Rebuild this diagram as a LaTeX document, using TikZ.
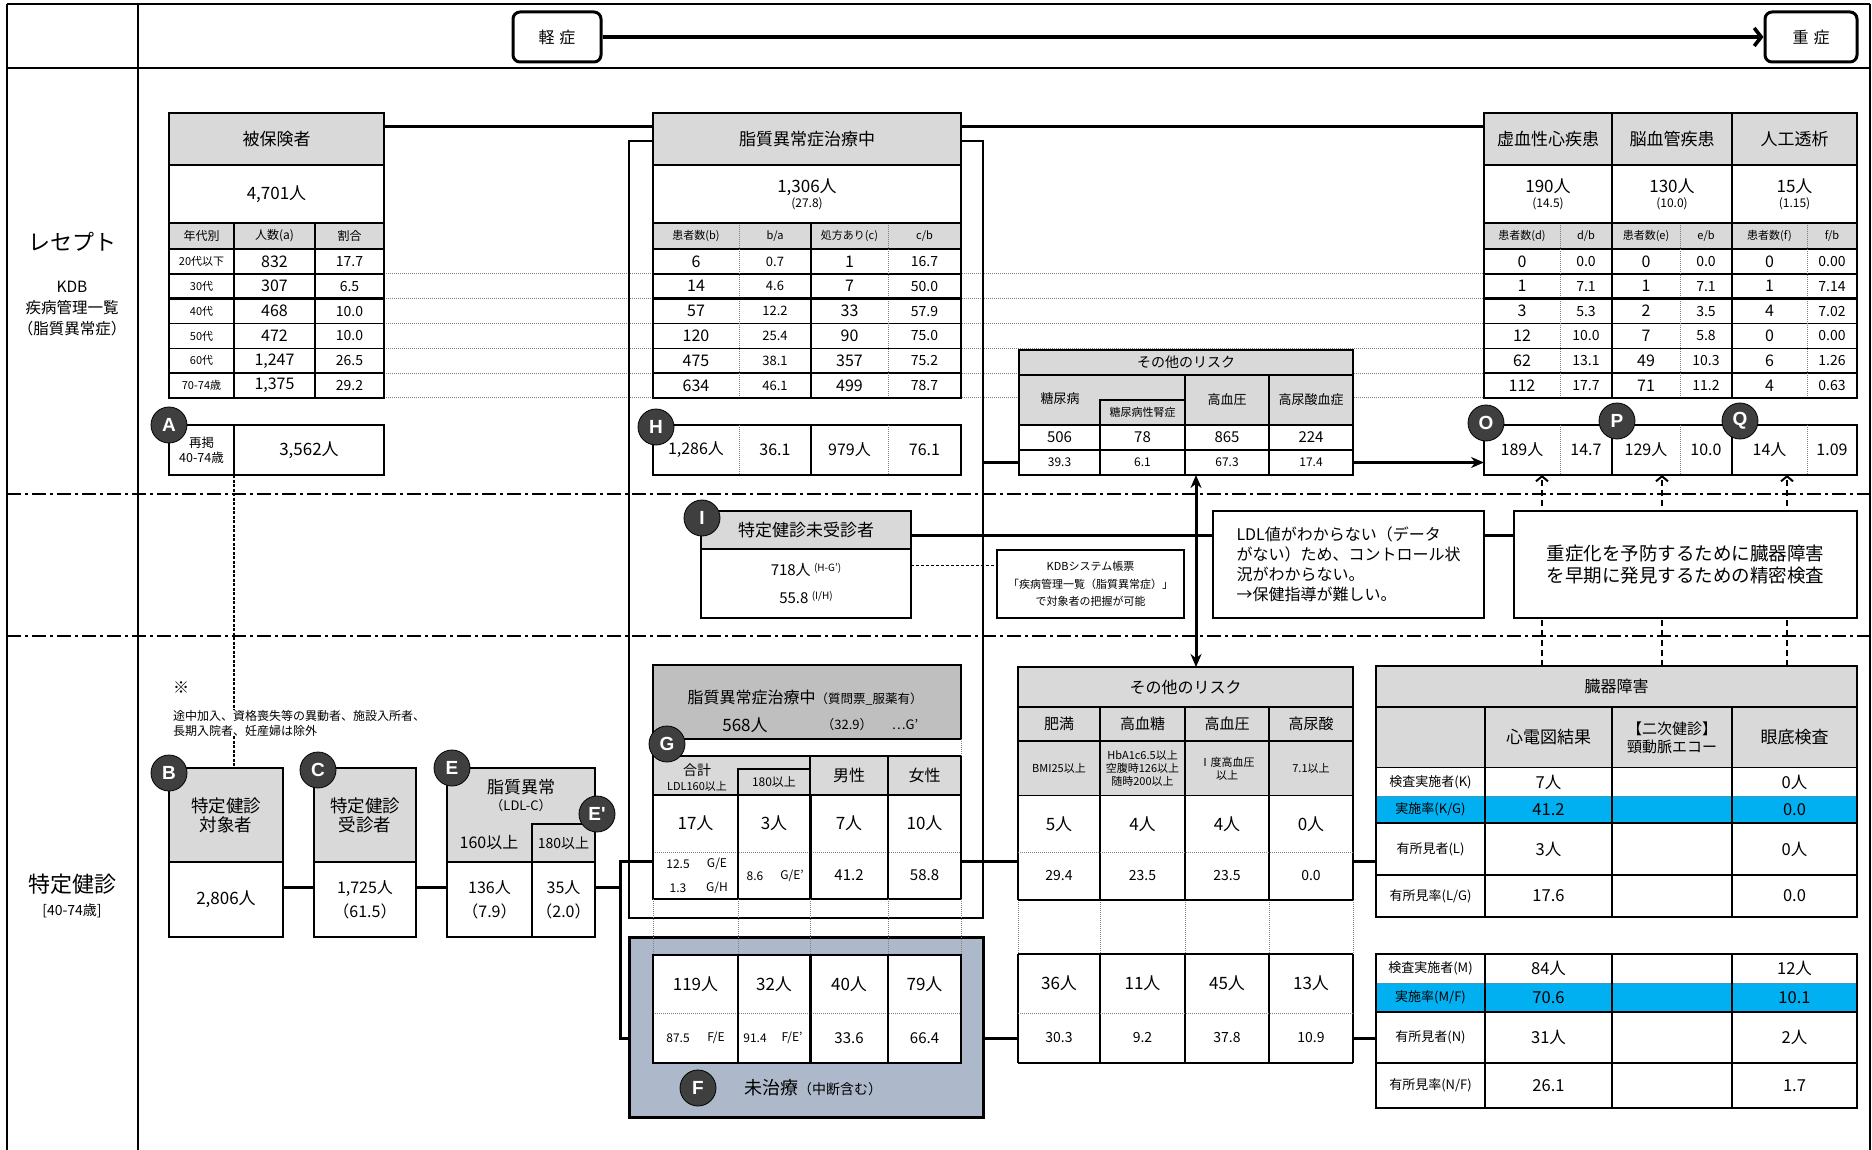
\documentclass[tikz,border=0pt]{standalone}
\usepackage{fontspec}
\setmainfont{Noto Sans CJK JP}
\newfontfamily\tagfont{Liberation Sans}
\usetikzlibrary{arrows.meta}
\pgfdeclarelayer{bg}
\pgfsetlayers{bg,main}
\definecolor{hdgray}{HTML}{D9D9D9}
\definecolor{ggray}{HTML}{BFBFBF}
\definecolor{fblue}{HTML}{ADB9CA}
\definecolor{rcyan}{HTML}{00B0F0}
\definecolor{tagc}{HTML}{3F3F3F}
\newcommand\fsz[2]{\fontsize{#1}{#2}\selectfont}
\newcommand\cellat[7][]{\node[cbox,#1,minimum width={(#5-#3)*1pt},minimum height={(#6-#4)*1pt}] (#2) at ({(#3+#5)/2},{(#4+#6)/2}) {#7};}
\tikzset{
  cbox/.style={draw,line width=1.5pt,fill=white,inner sep=0pt,outer sep=0pt,align=center},
  hcell/.style={cbox,fill=hdgray},
  fc/.style={cbox,draw=none},
  crow/.style={fc,fill=rcyan},
  thk/.style={line width=2.8pt},
  gl/.style={line width=1.5pt},
  dotl/.style={line width=1pt,draw=black!50,dash pattern=on 1pt off 1pt},
  conn/.style={line width=3pt},
  txt/.style={inner sep=0pt,outer sep=0pt,align=center},
  lettag/.style={circle,draw=black,line width=0.8pt,fill=tagc,text=white,minimum size=36pt,inner sep=0pt,font=\tagfont\bfseries\fsz{19}{19}},
  sev/.style={draw,line width=3pt,rounded corners=7pt,minimum height=50pt,inner sep=0pt,font=\fsz{16}{16}},
  dashdot/.style={line width=1.5pt,dash pattern=on 14pt off 4pt on 3pt off 4pt},
  upline/.style={line width=2pt,dash pattern=on 6pt off 4pt,-{Straight Barb[length=5pt,width=12pt]}},
  arr/.style={-{Stealth[length=13pt,width=11pt]}}
}
\begin{document}
\begin{tikzpicture}[x=1pt,y=-1pt]
\useasboundingbox (0,0) rectangle (1872,1150);

\draw[line width=2pt] (7,4) -- (1870,4) (7,68) -- (1870,68) (7,4) -- (7,1150) (138,4) -- (138,1150) (1870,4) -- (1870,1150);
\draw[dashdot] (7,494) -- (1870,494) (7,636) -- (1870,636);

\node[sev,minimum width=88pt] (mild) at (557,37) {軽\hspace{5pt}症};
\node[sev,minimum width=92pt] (severe) at (1811,37) {重\hspace{5pt}症};
\draw[line width=3.6pt,-{Straight Barb[length=7pt,width=18pt]}] (mild) -- (severe);

\node[txt,font=\fsz{22}{22}] (rcpt) at (72,242) {レセプト};
\node[txt,font=\fsz{15.5}{21}] (kdbl) at (72,309) {KDB\\疾病管理一覧\\（脂質異常症）};
\node[txt,font=\fsz{22}{22}] (kenl) at (72,884) {特定健診};
\node[txt,font=\fsz{14}{14}] (kena) at (72,911) {[40-74歳]};

\cellat[hcell,thk,font=\fsz{17}{17}]{ins}{169}{113}{384}{165}{被保険者}
\cellat[cbox,thk,font=\fsz{17}{17}]{ins-n}{169}{165}{384}{223}{4,701人}
\cellat[hcell,font=\fsz{12}{12}]{ins-h1}{169}{223}{234}{249}{年代別}
\cellat[hcell,font=\fsz{12}{12}]{ins-h2}{234}{223}{315}{249}{人数(a)}
\cellat[hcell,font=\fsz{12}{12}]{ins-h3}{315}{223}{384}{249}{割合}
\foreach \ag/\n/\p [count=\i from 0] in {20代以下/832/17.7,30代/307/6.5,40代/468/10.0,50代/472/10.0,60代/1{,}247/26.5,70-74歳/1{,}375/29.2}{
  \pgfmathsetmacro\ya{249+24.83*\i}
  \pgfmathsetmacro\yb{\ya+24.83}
  \cellat[cbox,font=\fsz{11}{11}]{ins-\i-1}{169}{\ya}{234}{\yb}{\ag}
  \cellat[cbox,font=\fsz{16}{16}]{ins-\i-2}{234}{\ya}{315}{\yb}{\n}
  \cellat[cbox,font=\fsz{14}{14}]{ins-\i-3}{315}{\ya}{384}{\yb}{\p}
}
\draw[thk] (ins-h1.north west) rectangle (ins-5-3.south east);
\draw[thk] (ins-2-1.north west) rectangle (ins-5-3.south east);
\cellat[cbox,thk,font=\fsz{12.5}{15}]{a-l}{169}{425}{234}{475}{再掲\\40-74歳}
\cellat[cbox,thk,font=\fsz{17}{17}]{a-n}{234}{425}{384}{475}{3,562人}

\cellat[cbox,thk,fill=none]{trtframe}{629}{141}{983}{918}{}
\cellat[hcell,thk,font=\fsz{17}{17}]{trt}{653}{113}{961}{165}{脂質異常症治療中}
\cellat[cbox,thk,font=\fsz{17}{17}]{trt-n}{653}{165}{961}{223}{1,306人\\[-2pt]{\fsz{12}{12}(27.8)}}
\cellat[hcell,draw=none,font=\fsz{11}{11}]{trt-c1}{653}{223}{739}{249}{患者数(b)}
\cellat[hcell,draw=none,font=\fsz{11}{11}]{trt-c2}{739}{223}{811}{249}{b/a}
\cellat[hcell,draw=none,font=\fsz{11}{11}]{trt-c3}{811}{223}{888}{249}{処方あり(c)}
\cellat[hcell,draw=none,font=\fsz{11}{11}]{trt-c4}{888}{223}{961}{249}{c/b}
\foreach \b/\ba/\c/\cb [count=\i from 0] in {6/0.7/1/16.7,14/4.6/7/50.0,57/12.2/33/57.9,120/25.4/90/75.0,475/38.1/357/75.2,634/46.1/499/78.7}{
  \pgfmathsetmacro\ya{249+24.83*\i}
  \pgfmathsetmacro\yb{\ya+24.83}
  \cellat[fc,font=\fsz{16}{16}]{trt-\i-1}{653}{\ya}{739}{\yb}{\b}
  \cellat[fc,font=\fsz{13}{13}]{trt-\i-2}{739}{\ya}{811}{\yb}{\ba}
  \cellat[fc,font=\fsz{16}{16}]{trt-\i-3}{811}{\ya}{888}{\yb}{\c}
  \cellat[fc,font=\fsz{14}{14}]{trt-\i-4}{888}{\ya}{961}{\yb}{\cb}
}
\foreach \i in {0,...,4} \draw[gl] (trt-\i-1.south west) -- (trt-\i-4.south east);
\draw[gl] (trt-c1.south west) -- (trt-c4.south east);
\draw[gl] (trt-c3.north west) -- (trt-5-3.south west);
\draw[dotl] (trt-c2.north west) -- (trt-5-2.south west) (trt-c4.north west) -- (trt-5-4.south west);
\draw[thk] (trt-c1.north west) rectangle (trt-5-4.south east);
\draw[thk] (trt-2-1.north west) rectangle (trt-5-4.south east);
\cellat[fc,font=\fsz{16}{16}]{trt-H1}{653}{425}{739}{475}{1,286人}
\cellat[fc,font=\fsz{16}{16}]{trt-H2}{739}{425}{811}{475}{36.1}
\cellat[fc,font=\fsz{16}{16}]{trt-H3}{811}{425}{888}{475}{979人}
\cellat[fc,font=\fsz{16}{16}]{trt-H4}{888}{425}{961}{475}{76.1}
\draw[thk] (trt-H1.north west) rectangle (trt-H4.south east);
\draw[gl] (trt-H3.north west) -- (trt-H3.south west);
\draw[dotl] (trt-H2.north west) -- (trt-H2.south west) (trt-H4.north west) -- (trt-H4.south west);

\foreach \xa/\xb/\t/\n/\r [count=\g] in {1484/1612/虚血性心疾患/190人/14.5,1612/1732/脳血管疾患/130人/10.0,1732/1857/人工透析/15人/1.15}{
  \cellat[hcell,thk,font=\fsz{17}{17}]{dis\g}{\xa}{113}{\xb}{165}{\t}
  \cellat[cbox,thk,font=\fsz{17}{17}]{dis\g-n}{\xa}{165}{\xb}{223}{\n\\[-2pt]{\fsz{12}{12}(\r)}}
}
\cellat[hcell,draw=none,font=\fsz{11}{11}]{dis-c1}{1484}{223}{1560}{249}{患者数(d)}
\cellat[hcell,draw=none,font=\fsz{11}{11}]{dis-c2}{1560}{223}{1612}{249}{d/b}
\cellat[hcell,draw=none,font=\fsz{11}{11}]{dis-c3}{1612}{223}{1680}{249}{患者数(e)}
\cellat[hcell,draw=none,font=\fsz{11}{11}]{dis-c4}{1680}{223}{1732}{249}{e/b}
\cellat[hcell,draw=none,font=\fsz{11}{11}]{dis-c5}{1732}{223}{1807}{249}{患者数(f)}
\cellat[hcell,draw=none,font=\fsz{11}{11}]{dis-c6}{1807}{223}{1857}{249}{f/b}
\foreach \va/\vb/\vc/\vd/\ve/\vf [count=\i from 0] in {0/0.0/0/0.0/0/0.00,1/7.1/1/7.1/1/7.14,3/5.3/2/3.5/4/7.02,12/10.0/7/5.8/0/0.00,62/13.1/49/10.3/6/1.26,112/17.7/71/11.2/4/0.63}{
  \pgfmathsetmacro\ya{249+24.83*\i}
  \pgfmathsetmacro\yb{\ya+24.83}
  \cellat[fc,font=\fsz{16}{16}]{dis-\i-1}{1484}{\ya}{1560}{\yb}{\va}
  \cellat[fc,font=\fsz{14}{14}]{dis-\i-2}{1560}{\ya}{1612}{\yb}{\vb}
  \cellat[fc,font=\fsz{16}{16}]{dis-\i-3}{1612}{\ya}{1680}{\yb}{\vc}
  \cellat[fc,font=\fsz{14}{14}]{dis-\i-4}{1680}{\ya}{1732}{\yb}{\vd}
  \cellat[fc,font=\fsz{16}{16}]{dis-\i-5}{1732}{\ya}{1807}{\yb}{\ve}
  \cellat[fc,font=\fsz{14}{14}]{dis-\i-6}{1807}{\ya}{1857}{\yb}{\vf}
}
\foreach \i in {0,...,4} \draw[gl] (dis-\i-1.south west) -- (dis-\i-6.south east);
\draw[gl] (dis-c1.south west) -- (dis-c6.south east);
\draw[gl] (dis-c3.north west) -- (dis-5-3.south west) (dis-c5.north west) -- (dis-5-5.south west);
\draw[dotl] (dis-c2.north west) -- (dis-5-2.south west) (dis-c4.north west) -- (dis-5-4.south west) (dis-c6.north west) -- (dis-5-6.south west);
\draw[thk] (dis-c1.north west) rectangle (dis-5-6.south east);
\draw[thk] (dis-2-1.north west) rectangle (dis-5-6.south east);
\foreach \xa/\xb/\v [count=\j] in {1484/1560/189人,1560/1612/14.7,1612/1680/129人,1680/1732/10.0,1732/1807/14人,1807/1857/1.09}{
  \cellat[fc,font=\fsz{16}{16}]{opq\j}{\xa}{425}{\xb}{475}{\v}
}
\draw[thk] (opq1.north west) rectangle (opq6.south east);
\draw[gl] (opq3.north west) -- (opq3.south west) (opq5.north west) -- (opq5.south west);
\draw[dotl] (opq2.north west) -- (opq2.south west) (opq4.north west) -- (opq4.south west) (opq6.north west) -- (opq6.south west);

\cellat[hcell,font=\fsz{14}{14}]{rsk}{1019}{350}{1353}{375}{その他のリスク}
\cellat[hcell]{rsk-h1}{1019}{375}{1185}{425}{}
\node[txt,font=\fsz{13}{13}] (rsk-t1) at (1060,399) {糖尿病};
\cellat[hcell,font=\fsz{11}{11}]{rsk-h2}{1100}{400}{1185}{425}{糖尿病性腎症}
\cellat[hcell,font=\fsz{13}{13}]{rsk-h3}{1185}{375}{1269}{425}{高血圧}
\cellat[hcell,font=\fsz{13}{13}]{rsk-h4}{1269}{375}{1353}{425}{高尿酸血症}
\foreach \xa/\xb/\va/\vb [count=\j] in {1019/1100/506/39.3,1100/1185/78/6.1,1185/1269/865/67.3,1269/1353/224/17.4}{
  \cellat[cbox,font=\fsz{15}{15}]{rsk-a\j}{\xa}{425}{\xb}{450}{\va}
  \cellat[cbox,font=\fsz{12}{12}]{rsk-b\j}{\xa}{450}{\xb}{475}{\vb}
}
\draw[line width=2.2pt] (rsk.north west) rectangle (rsk-b4.south east);

\cellat[hcell,thk,font=\fsz{17}{17}]{nrec}{701}{511}{911}{549}{特定健診未受診者}
\cellat[cbox,font=\fsz{15}{28}]{nrec-v}{701}{549}{911}{618}{718人 \raisebox{4pt}{\fsz{10}{10}(H-G')}\\55.8 \raisebox{4pt}{\fsz{10}{10}(I/H)}}
\cellat[cbox,font=\fsz{11}{17.5}]{kdb}{997}{550}{1184}{618}{KDBシステム帳票\\「疾病管理一覧（脂質異常症）」\\で対象者の把握が可能}
\cellat[cbox,align=left,font=\fsz{16}{20}]{ldl}{1213}{511}{1484}{618}{LDL値がわからない（データ\\がない）ため、コントロール状\\況がわからない。\\→保健指導が難しい。}
\cellat[cbox,thk,font=\fsz{18.5}{22}]{prev}{1514}{511}{1857}{618}{重症化を予防するために臓器障害\\を早期に発見するための精密検査}

\node[txt,font=\fsz{16}{16}] (kome) at (181,688) {※};
\node[txt,font=\fsz{12}{15},align=left,anchor=west,fill=white] (note) at (173,723) {途中加入、資格喪失等の異動者、施設入所者、\\長期入院者、妊産婦は除外};
\cellat[hcell,thk,font=\fsz{17.5}{19}]{bt}{169}{768}{283}{862}{特定健診\\対象者}
\cellat[cbox,thk,font=\fsz{17}{17}]{bv}{169}{862}{283}{937}{2,806人}
\cellat[hcell,thk,font=\fsz{17.5}{19}]{ct}{314}{768}{416}{862}{特定健診\\受診者}
\cellat[cbox,thk,font=\fsz{16}{24}]{cv}{314}{862}{416}{937}{1,725人\\（61.5）}
\cellat[hcell,thk]{et}{447}{768}{595}{862}{}
\node[txt,font=\fsz{17}{17}] (et1) at (521,787) {脂質異常};
\node[txt,font=\fsz{13}{13}] (et2) at (521,806) {（LDL-C）};
\node[txt,font=\fsz{16}{16}] (et3) at (489,843) {160以上};
\cellat[hcell,font=\fsz{14}{14}]{ept}{532}{824}{595}{862}{180以上}
\cellat[cbox,thk,font=\fsz{16}{24}]{ev}{447}{862}{532}{937}{136人\\（7.9）}
\cellat[cbox,thk,font=\fsz{16}{24}]{epv}{532}{862}{595}{937}{35人\\（2.0）}

\cellat[cbox,thk,line width=3pt,fill=fblue]{fbox}{629}{937}{983}{1117}{}
\cellat[cbox,thk,fill=ggray]{gq}{653}{665}{961}{739}{}
\node[txt,font=\fsz{16}{16}] (gq1) at (805,698) {脂質異常症治療中{\fsz{12.5}{12.5}（質問票\_服薬有）}};
\node[txt,font=\fsz{17}{17}] (gq2) at (745,725) {568人};
\node[txt,font=\fsz{13}{13}] (gq3) at (847,725) {（32.9）};
\node[txt,font=\fsz{13}{13}] (gq4) at (905,725) {…G'};
\cellat[hcell]{gh}{653}{756}{961}{795}{}
\node[txt,font=\fsz{14}{14}] (gh1) at (697,770) {合計};
\node[txt,font=\fsz{11}{11}] (gh2) at (697,786) {LDL160以上};
\cellat[hcell,font=\fsz{12}{12}]{gh3}{738}{769}{810}{795}{180以上}
\cellat[hcell,font=\fsz{16}{16}]{gh4}{810}{756}{888}{795}{男性}
\cellat[hcell,font=\fsz{16}{16}]{gh5}{888}{756}{961}{795}{女性}
\foreach \xa/\xb/\ga/\gb/\fa/\fb [count=\j] in {653/738/17人/{}/119人/{},738/810/3人/{}/32人/{},810/888/7人/41.2/40人/33.6,888/961/10人/58.8/79人/66.4}{
  \cellat[fc,font=\fsz{17}{17}]{g-1-\j}{\xa}{795}{\xb}{852}{\ga}
  \cellat[fc,font=\fsz{15}{15}]{g-2-\j}{\xa}{852}{\xb}{899}{\gb}
  \cellat[fc,font=\fsz{17}{17}]{f-3-\j}{\xa}{955}{\xb}{1013}{\fa}
  \cellat[fc,font=\fsz{15}{15}]{f-4-\j}{\xa}{1013}{\xb}{1063}{\fb}
}
\foreach \xx/\yy/\t [count=\k] in {678/864/12.5,717/864/{G/E},678/888/1.3,717/888/{G/H},755/876/8.6,792/876/{G/E'},678/1038/87.5,716/1038/{F/E},755/1038/91.4,792/1038/{F/E'}}{
  \node[txt,font=\fsz{12}{12}] (gs\k) at (\xx,\yy) {\t};
}
\draw[dotl] (g-1-1.south west) -- (g-1-4.south east) (f-3-1.south west) -- (f-3-4.south east);
\draw[line width=2pt] (g-1-1.north west) rectangle (g-2-4.south east) (f-3-1.north west) rectangle (f-4-4.south east);
\draw[gl] (gh3.south west) -- (g-2-2.south west) (gh5.south west) -- (g-2-4.south west);
\draw[gl] (f-3-2.north west) -- (f-4-2.south west) (f-3-4.north west) -- (f-4-4.south west);
\draw[line width=3pt] (gh4.south west) -- (g-2-3.south west) (f-3-3.north west) -- (f-4-3.south west);
\foreach \j in {1,...,4} \draw[dotl] (g-2-\j.south west) -- (f-3-\j.north west);
\draw[dotl] (g-2-4.south east) -- (f-3-4.north east) (gq.south west) -- (gh.north west) (gq.south east) -- (gh.north east);
\node[txt,font=\fsz{18}{18},anchor=west] (flab) at (744,1088) {未治療{\fsz{14}{14}（中断含む）}};

\cellat[hcell,font=\fsz{16}{16}]{rb}{1018}{667}{1353}{707}{その他のリスク}
\foreach \xa/\xb/\ha/\hb/\ra/\rbv/\rc/\rd [count=\j] in {1018/1100/肥満/BMI25以上/5人/29.4/36人/30.3,1100/1185/高血糖/{HbA1c6.5以上\\空腹時126以上\\随時200以上}/4人/23.5/11人/9.2,1185/1269/高血圧/{Ⅰ度高血圧\\以上}/4人/23.5/45人/37.8,1269/1353/高尿酸/7.1以上/0人/0.0/13人/10.9}{
  \cellat[hcell,font=\fsz{15}{15}]{rb-h\j}{\xa}{707}{\xb}{741}{\ha}
  \cellat[hcell,font=\fsz{11}{13}]{rb-s\j}{\xa}{741}{\xb}{796}{\hb}
  \cellat[fc,font=\fsz{17}{17}]{rb-1-\j}{\xa}{796}{\xb}{852}{\ra}
  \cellat[fc,font=\fsz{14}{14}]{rb-2-\j}{\xa}{852}{\xb}{900}{\rbv}
  \cellat[fc,font=\fsz{17}{17}]{rb-3-\j}{\xa}{954}{\xb}{1013}{\rc}
  \cellat[fc,font=\fsz{14}{14}]{rb-4-\j}{\xa}{1013}{\xb}{1063}{\rd}
}
\foreach \j in {1,...,4} {
  \draw[gl] (rb-1-\j.north west) -- (rb-2-\j.south west) (rb-3-\j.north west) -- (rb-4-\j.south west);
  \draw[dotl] (rb-2-\j.south west) -- (rb-3-\j.north west);
}
\draw[gl] (rb-1-4.north east) -- (rb-2-4.south east) (rb-3-4.north east) -- (rb-4-4.south east);
\draw[dotl] (rb-2-4.south east) -- (rb-3-4.north east) (rb-1-1.south west) -- (rb-1-4.south east) (rb-3-1.south west) -- (rb-3-4.south east);
\draw[gl] (rb-2-1.south west) -- (rb-2-4.south east) (rb-3-1.north west) -- (rb-3-4.north east) (rb-4-1.south west) -- (rb-4-4.south east);

\cellat[hcell,thk,font=\fsz{16}{16}]{org}{1376}{666}{1857}{707}{臓器障害}
\cellat[hcell]{org-h1}{1376}{707}{1485}{768}{}
\cellat[hcell,font=\fsz{17}{17}]{org-h2}{1485}{707}{1612}{768}{心電図結果}
\cellat[hcell,font=\fsz{15}{18}]{org-h3}{1612}{707}{1732}{768}{【二次健診】\\頸動脈エコー}
\cellat[hcell,font=\fsz{17}{17}]{org-h4}{1732}{707}{1857}{768}{眼底検査}
\foreach \ya/\yb/\lab/\va/\vb/\rs [count=\i] in {768/796/検査実施者(K)/7人/0人/fc,796/823/{実施率(K/G)}/41.2/0.0/crow,823/875/有所見者(L)/3人/0人/fc,875/917/{有所見率(L/G)}/17.6/0.0/fc,954/983/検査実施者(M)/84人/12人/fc,983/1012/{実施率(M/F)}/70.6/10.1/crow,1012/1063/有所見者(N)/31人/2人/fc,1063/1108/{有所見率(N/F)}/26.1/1.7/fc}{
  \cellat[\rs,font=\fsz{13}{13}]{org-\i-1}{1376}{\ya}{1485}{\yb}{\lab}
  \cellat[\rs,font=\fsz{16.5}{16.5}]{org-\i-2}{1485}{\ya}{1612}{\yb}{\va}
  \cellat[\rs]{org-\i-3}{1612}{\ya}{1732}{\yb}{}
  \cellat[\rs,font=\fsz{16.5}{16.5}]{org-\i-4}{1732}{\ya}{1857}{\yb}{\vb}
}
\draw[dotl] (org-1-1.south west) -- (org-1-4.south east) (org-5-1.south west) -- (org-5-4.south east);
\foreach \i in {2,3,6,7} \draw[gl] (org-\i-1.south west) -- (org-\i-4.south east);
\foreach \j in {2,3,4} \draw[gl] (org-h\j.north west) -- (org-4-\j.south west) (org-5-\j.north west) -- (org-8-\j.south west);
\draw[thk] (org.north west) rectangle (org-4-4.south east) (org-5-1.north west) rectangle (org-8-4.south east);

\node[lettag] (tagA) at (169,425) {A};
\node[lettag] (tagB) at (169,773) {B};
\node[lettag] (tagC) at (318,770) {C};
\node[lettag] (tagE) at (452,768) {E};
\node[lettag] (tagEp) at (597,814) {E'};
\node[lettag] (tagF) at (698,1088) {F};
\node[lettag] (tagG) at (667,744) {G};
\node[lettag] (tagH) at (656,427) {H};
\node[lettag] (tagI) at (702,518) {I};
\node[lettag] (tagO) at (1486,423) {O};
\node[lettag] (tagP) at (1617,421) {P};
\node[lettag] (tagQ) at (1740,421) {Q};

\begin{pgfonlayer}{bg}
\foreach \i in {0,...,5} \draw[dotl] (ins-\i-3.south east) -- (ins-\i-3.south east -| dis-\i-1.west);
\draw[conn] ([yshift=12pt]ins.east) -- ([yshift=12pt]trt.west);
\draw[conn] ([yshift=12pt]trt.east) -- ([yshift=12pt]dis1.west);
\draw[conn] (trtframe.east |- rsk-b1.west) -- (rsk-b1.west);
\draw[conn,arr] (rsk-b4.east) -- (rsk-b4.east -| opq1.west);
\draw[conn,{Stealth[length=13pt,width=11pt]}-{Stealth[length=13pt,width=11pt]}] ([xshift=11pt]rsk-b3.south west) -- ([xshift=11pt]rsk-b3.south west |- rb.north);
\coordinate (nl) at ([yshift=-5pt]nrec.east);
\draw[conn] (nl) -- (nl -| ldl.west) (nl -| ldl.east) -- (nl -| prev.west);
\coordinate (nk) at ([yshift=18pt]nrec-v.east);
\draw[line width=1pt,dash pattern=on 3pt off 2pt] (nk) -- (nk -| kdb.west);
\draw[line width=1.2pt,dash pattern=on 3pt off 1.5pt] (a-l.south east) -- (a-l.south east |- bt.north);
\foreach \x in {1542,1662,1787} \draw[upline] (\x,0 |- org.north) -- (\x,0 |- opq1.south);
\coordinate (bl) at ([yshift=12pt]bv.east);
\coordinate (jn) at ([xshift=25pt]epv.east);
\coordinate (gl) at ([yshift=14pt]g-2-1.west);
\draw[conn] (bl) -- (bl -| cv.west) (bl -| cv.east) -- (bl -| ev.west) (bl -| epv.east) -- (bl -| jn);
\draw[conn] (gl) -- (gl -| jn) -- (f-4-1.west -| jn) -- (f-4-1.west);
\draw[conn] (gl -| g-2-4.east) -- (gl -| rb-2-1.west) (f-4-4.east) -- (f-4-4.east -| rb-4-1.west);
\draw[conn] (gl -| rb-2-4.east) -- (gl -| org-1-1.west) (rb-4-4.east) -- (rb-4-4.east -| org-5-1.west);
\end{pgfonlayer}
\end{tikzpicture}
\end{document}
